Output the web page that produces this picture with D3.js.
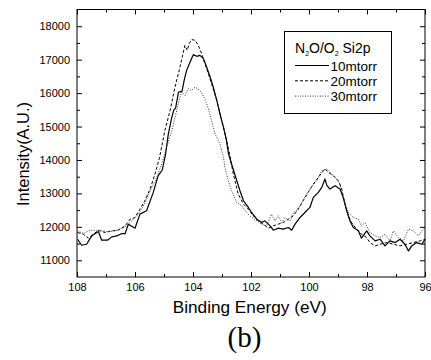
<!DOCTYPE html>
<html>
<head>
<meta charset="utf-8">
<script src="https://cdn.jsdelivr.net/npm/d3@7"></script>
<style>
  html, body { margin: 0; padding: 0; background: #fff; }
  svg { display: block; }
</style>
</head>
<body>
<div id="chart"></div>
<script>
// binding energy (eV) / intensity (A.U.) pairs
const s10 = [
  [107.98,11630],[107.84,11450],[107.67,11480],[107.49,11730],[107.26,11860],[107.15,11600],
  [106.95,11600],[106.8,11700],[106.63,11730],[106.45,11800],[106.34,11800],[106.23,12080],
  [106.0,11960],[105.83,12380],[105.6,12480],[105.37,13030],[105.2,13530],[105.06,13700],
  [104.95,14150],[104.85,14780],[104.73,15280],[104.66,15500],[104.6,15550],[104.5,16030],
  [104.38,16050],[104.3,16400],[104.22,16680],[104.1,16930],[103.99,17150],[103.87,17100],
  [103.76,17130],[103.68,17060],[103.64,17030],[103.53,16780],[103.41,16480],[103.3,16180],
  [103.18,15780],[103.07,15380],[102.95,14980],[102.85,14600],[102.78,14200],[102.67,13880],
  [102.49,13380],[102.38,13080],[102.26,12780],[102.09,12580],[101.98,12430],[101.8,12230],
  [101.63,12130],[101.52,12180],[101.34,12030],[101.23,11900],[101.06,11960],[100.89,11930],
  [100.71,11980],[100.6,11900],[100.48,12080],[100.31,12280],[100.14,12430],[99.97,12580],
  [99.85,12880],[99.68,13030],[99.56,13180],[99.45,13430],[99.39,13250],[99.28,13130],
  [99.1,13230],[98.93,13130],[98.82,12880],[98.7,12480],[98.59,12180],[98.47,11980],
  [98.3,11880],[98.19,11660],[98.01,11880],[97.9,11730],[97.72,11580],[97.55,11630],
  [97.38,11430],[97.21,11580],[97.03,11530],[96.86,11630],[96.69,11480],[96.57,11280],
  [96.46,11430],[96.29,11530],[96.11,11480],[96.0,11630]
];
const s20 = [
  [107.98,11830],[107.78,11780],[107.61,11660],[107.44,11780],[107.26,11900],[107.03,11830],
  [106.8,11880],[106.58,11900],[106.34,12030],[106.17,12230],[106.0,12280],[105.83,12530],
  [105.66,12780],[105.48,13130],[105.31,13580],[105.16,14050],[104.97,14880],[104.79,15480],
  [104.62,16180],[104.45,16780],[104.33,17230],[104.28,17430],[104.2,17280],[104.13,17480],
  [104.05,17600],[103.93,17580],[103.82,17430],[103.7,17180],[103.59,16880],[103.47,16580],
  [103.36,16280],[103.18,15780],[103.01,15180],[102.84,14580],[102.72,14100],[102.61,13580],
  [102.44,12980],[102.26,12680],[102.09,12530],[101.92,12330],[101.75,12180],[101.58,12080],
  [101.4,11960],[101.23,12030],[101.06,12080],[100.89,12130],[100.71,12230],[100.54,12330],
  [100.37,12530],[100.2,12780],[100.03,13030],[99.85,13280],[99.68,13480],[99.5,13680],
  [99.45,13730],[99.33,13630],[99.16,13530],[98.99,13380],[98.87,13130],[98.76,12680],
  [98.64,12330],[98.53,12130],[98.36,11930],[98.19,11780],[98.01,11680],[97.9,11530],
  [97.72,11430],[97.55,11480],[97.32,11530],[97.09,11480],[96.86,11430],[96.63,11480],
  [96.4,11530],[96.17,11580],[96.0,11630]
];
const s30 = [
  [107.98,11880],[107.78,11800],[107.61,11880],[107.38,11900],[107.15,11880],[106.92,11860],
  [106.69,11880],[106.46,11960],[106.29,12030],[106.11,12180],[105.94,12330],[105.77,12530],
  [105.6,12830],[105.42,13180],[105.25,13480],[105.08,13880],[104.9,14400],[104.73,14880],
  [104.56,15480],[104.45,15880],[104.39,16030],[104.28,15930],[104.16,16130],[104.05,16080],
  [103.93,16180],[103.76,16080],[103.59,15830],[103.47,15530],[103.36,15180],[103.24,14780],
  [103.07,14480],[102.95,14080],[102.9,13780],[102.78,13380],[102.67,13080],[102.49,12730],
  [102.32,12630],[102.15,12430],[101.98,12280],[101.8,12180],[101.63,12080],[101.46,12030],
  [101.29,12380],[101.17,12180],[101.06,12330],[100.94,12130],[100.83,12280],[100.66,12180],
  [100.54,12430],[100.43,12480],[100.25,12730],[100.08,12980],[99.91,13180],[99.74,13380],
  [99.56,13680],[99.39,13730],[99.22,13580],[99.05,13430],[98.93,13280],[98.82,12830],
  [98.64,12430],[98.47,12280],[98.3,12230],[98.19,12030],[98.07,12130],[97.9,11830],
  [97.72,11730],[97.55,11680],[97.38,11780],[97.21,11580],[97.09,11880],[96.92,11680],
  [96.74,11580],[96.57,11930],[96.4,11880],[96.22,11730],[96.11,11880],[96.0,11980]
];

const xMajor = [108, 106, 104, 102, 100, 98, 96];
const xMinor = [107, 105, 103, 101, 99, 97];
const yMajor = [11000, 12000, 13000, 14000, 15000, 16000, 17000, 18000];
const yMinor = [11500, 12500, 13500, 14500, 15500, 16500, 17500];

const seriesNames = ['10mtorr', '20mtorr', '30mtorr'];
const seriesData = [s10, s20, s30];

const width = 431;
const height = 360;
const frame = { left: 77, right: 425, top: 9.5, bottom: 277 };
const font = '"Liberation Sans", Arial, sans-serif';

const styles = [
  { dash: null, width: 1.2, color: '#000' },
  { dash: '3,2', width: 1, color: '#000' },
  { dash: '1,1.5', width: 1, color: '#333' }
];

const svg = d3.select('#chart')
  .append('svg')
  .attr('width', width)
  .attr('height', height)
  .attr('viewBox', `0 0 ${width} ${height}`);

const x = d3.scaleLinear().domain([108, 96]).range([frame.left, frame.right]);
const y = d3.scaleLinear().domain([10500, 18500]).range([frame.bottom, frame.top]);

// axes with inward ticks on all four sides
const addAxis = (axis, tx, ty) => {
  const g = svg.append('g')
    .attr('transform', `translate(${tx},${ty})`)
    .call(axis);
  g.select('.domain').remove();
  g.selectAll('line').attr('stroke', '#000');
  g.selectAll('text')
    .attr('font-family', font)
    .attr('font-size', '11px')
    .attr('fill', '#000');
  return g;
};

addAxis(d3.axisBottom(x).tickValues(xMajor).tickSize(-5).tickPadding(6).tickFormat(d3.format('d')), 0, frame.bottom);
addAxis(d3.axisBottom(x).tickValues(xMinor).tickSize(-3).tickFormat(''), 0, frame.bottom);
addAxis(d3.axisTop(x).tickValues(xMajor).tickSize(-5).tickFormat(''), 0, frame.top);
addAxis(d3.axisTop(x).tickValues(xMinor).tickSize(-3).tickFormat(''), 0, frame.top);

addAxis(d3.axisLeft(y).tickValues(yMajor).tickSize(-5).tickPadding(7).tickFormat(d3.format('d')), frame.left, 0);
addAxis(d3.axisLeft(y).tickValues(yMinor).tickSize(-3).tickFormat(''), frame.left, 0);
addAxis(d3.axisRight(y).tickValues(yMajor).tickSize(-5).tickFormat(''), frame.right, 0);
addAxis(d3.axisRight(y).tickValues(yMinor).tickSize(-3).tickFormat(''), frame.right, 0);

svg.append('rect')
  .attr('x', frame.left)
  .attr('y', frame.top)
  .attr('width', frame.right - frame.left)
  .attr('height', frame.bottom - frame.top)
  .attr('fill', 'none')
  .attr('stroke', '#000')
  .attr('stroke-width', 1);

// spectra
const line = d3.line()
  .x(d => x(d[0]))
  .y(d => y(d[1]));

svg.append('g')
  .selectAll('path')
  .data(seriesData)
  .join('path')
  .attr('d', line)
  .attr('fill', 'none')
  .attr('stroke', (_d, i) => styles[i].color)
  .attr('stroke-width', (_d, i) => styles[i].width)
  .attr('stroke-dasharray', (_d, i) => styles[i].dash)
  .attr('stroke-linejoin', 'round');

// legend
const legend = svg.append('g');
legend.append('rect')
  .attr('x', 284.5)
  .attr('y', 31.5)
  .attr('width', 107)
  .attr('height', 82)
  .attr('fill', '#fff')
  .attr('stroke', '#000')
  .attr('stroke-width', 1);

const title = legend.append('text')
  .attr('x', 295)
  .attr('y', 53)
  .attr('font-family', font)
  .attr('font-size', '14px')
  .attr('fill', '#000');
title.append('tspan').text('N');
title.append('tspan').text('2').attr('font-size', '7px').attr('dy', 2.5);
title.append('tspan').text('O/O').attr('dy', -2.5);
title.append('tspan').text('2').attr('font-size', '7px').attr('dy', 2.5);
title.append('tspan').text(' Si2p').attr('dy', -2.5);

const rows = legend.selectAll('g.row')
  .data(seriesNames)
  .join('g')
  .attr('class', 'row')
  .attr('transform', (_d, i) => `translate(0,${70.7 + i * 15.3})`);

rows.append('line')
  .attr('x1', 295)
  .attr('x2', 329)
  .attr('y1', -5.2)
  .attr('y2', -5.2)
  .attr('stroke', (_d, i) => styles[i].color)
  .attr('stroke-width', (_d, i) => styles[i].width)
  .attr('stroke-dasharray', (_d, i) => styles[i].dash);

rows.append('text')
  .text(d => d)
  .attr('x', 330.5)
  .attr('y', 0)
  .attr('font-family', font)
  .attr('font-size', '13.5px')
  .attr('fill', '#000');

// axis titles
svg.append('text')
  .text('Binding Energy (eV)')
  .attr('x', 249.7)
  .attr('y', 313.3)
  .attr('text-anchor', 'middle')
  .attr('font-family', font)
  .attr('font-size', '16px')
  .attr('textLength', 154)
  .attr('lengthAdjust', 'spacingAndGlyphs')
  .attr('fill', '#000');

svg.append('text')
  .text('Intensity(A.U.)')
  .attr('transform', 'translate(29,154) rotate(-90)')
  .attr('text-anchor', 'middle')
  .attr('font-family', font)
  .attr('font-size', '16px')
  .attr('textLength', 104)
  .attr('lengthAdjust', 'spacingAndGlyphs')
  .attr('fill', '#000');

svg.append('text')
  .text('(b)')
  .attr('x', 244.5)
  .attr('y', 346.5)
  .attr('text-anchor', 'middle')
  .attr('font-family', '"Liberation Serif", "Times New Roman", serif')
  .attr('font-size', '29px')
  .attr('fill', '#000');
</script>
</body>
</html>
